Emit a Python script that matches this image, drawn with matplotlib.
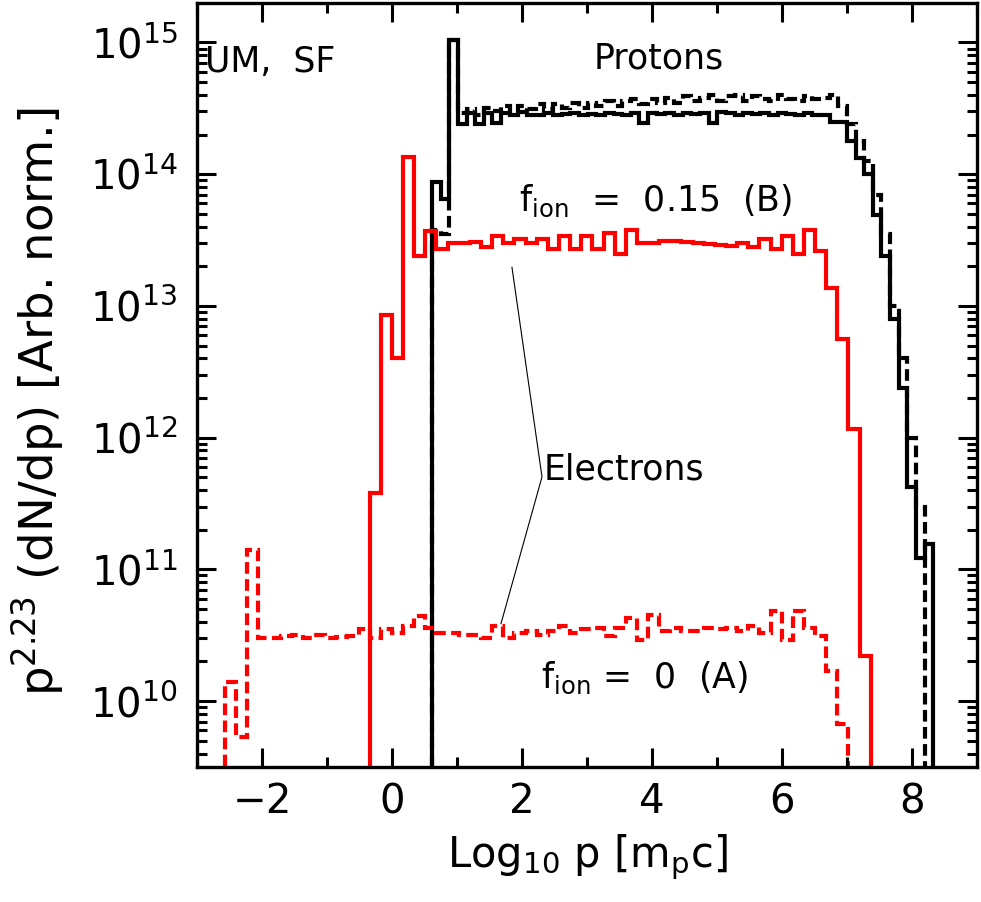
import numpy as np
import matplotlib
matplotlib.use("Agg")
import matplotlib.pyplot as plt

plt.rcParams['font.family'] = ['DejaVu Sans']
plt.rcParams['mathtext.default'] = 'regular'

# ---------------- data ----------------
# electron histograms share one log-momentum grid
E_LEFT = -2.57
E_WIDTH = 0.1713
# f_ion = 0 (A) electrons, 56 bins starting at E_LEFT
ele_A = [1.4e10, 5.3e9, 1.4e11, 3.0e10, 3.0e10, 3.1e10, 3.2e10, 3.0e10, 3.2e10, 3.0e10,
         3.05e10, 3.1e10, 3.5e10, 3.0e10, 3.5e10, 3.3e10, 3.7e10, 4.4e10, 3.6e10, 3.3e10,
         3.3e10, 3.2e10, 3.2e10, 3.0e10, 3.7e10, 3.0e10, 3.3e10, 3.4e10, 3.2e10, 3.4e10,
         3.7e10, 3.3e10, 3.5e10, 3.6e10, 3.1e10, 3.6e10, 4.3e10, 2.9e10, 4.5e10, 3.4e10,
         3.6e10, 3.4e10, 3.4e10, 3.6e10, 3.5e10, 3.6e10, 3.4e10, 3.7e10, 3.3e10, 4.8e10,
         2.9e10, 4.8e10, 3.6e10, 3.1e10, 1.7e10, 6.7e9]
# f_ion = 0.15 (B) electrons, 45 bins starting 13 bins after E_LEFT
ele_B_offset = 13
ele_B = [3.8e11, 8.5e12, 4.0e12, 1.34e14, 2.4e13, 3.7e13, 2.7e13, 3.0e13, 3.0e13, 3.05e13,
         2.8e13, 3.4e13, 3.0e13, 3.2e13, 3.0e13, 3.2e13, 2.7e13, 3.4e13, 2.7e13, 3.4e13,
         2.7e13, 3.6e13, 2.5e13, 3.8e13, 3.0e13, 3.0e13, 3.1e13, 3.1e13, 3.05e13, 3.0e13,
         2.95e13, 2.9e13, 2.85e13, 3.0e13, 2.8e13, 3.2e13, 2.7e13, 3.4e13, 2.5e13, 3.8e13,
         2.6e13, 1.38e13, 5.6e12, 1.16e12, 2.2e10]

# proton histograms
P_LEFT = 0.615
P_WIDTH = 0.133
# f_ion = 0.15 (B) protons, 58 bins
prot_B = [8.7e13, 6.5e13, 1.05e15,
          2.4e14, 2.9e14, 2.4e14, 2.9e14, 2.45e14, 2.9e14, 2.8e14, 2.95e14, 2.8e14, 2.8e14,
          2.9e14, 2.8e14, 2.85e14, 2.9e14, 2.8e14, 2.85e14, 2.8e14, 2.9e14, 2.85e14, 2.8e14,
          2.9e14, 2.45e14, 2.9e14, 2.85e14, 2.9e14, 2.8e14, 2.9e14, 2.85e14, 2.9e14, 2.45e14,
          2.95e14, 2.9e14, 2.8e14, 2.9e14, 2.85e14, 2.9e14, 2.8e14, 2.9e14, 2.85e14, 2.8e14,
          2.9e14, 2.8e14, 2.8e14,
          2.5e14, 2.5e14, 1.8e14, 1.33e14, 1.0e14, 4.9e13, 2.4e13, 7.9e12, 2.4e12, 4.2e11,
          1.23e11, 1.55e11]
# f_ion = 0 (A) protons, 57 bins
prot_A = [3.8e13, 3.5e13, 1.05e15,
          2.9e14, 3.1e14, 2.8e14, 3.2e14, 3.0e14, 3.3e14, 3.0e14, 3.3e14, 3.1e14, 3.4e14,
          3.1e14, 3.4e14, 3.2e14, 3.5e14, 3.2e14, 3.5e14, 3.3e14, 3.6e14, 3.3e14, 3.6e14,
          3.7e14, 3.4e14, 3.7e14, 3.5e14, 3.8e14, 3.5e14, 3.9e14, 3.6e14, 3.8e14, 4.0e14,
          3.6e14, 3.9e14, 4.0e14, 3.6e14, 3.9e14, 3.7e14, 3.6e14, 4.0e14, 3.7e14, 3.6e14,
          3.9e14, 3.7e14, 3.8e14,
          4.0e14, 3.3e14, 2.4e14, 1.8e14, 1.25e14, 7.0e13, 3.5e13, 1.0e13, 4.0e12, 1.0e12,
          3.0e11]

# ---------------- figure ----------------
fig = plt.figure(figsize=(9.81, 9.02), dpi=100)
ax = fig.add_axes([0.2008, 0.1497, 0.7951, 0.8470])
ax.set_yscale('log')
ax.set_xlim(-3, 9)
ax.set_ylim(10**9.5, 10**15.3)

LW = 3.0
DASH = (0, (2.8, 1.3))
base = 1e5
e_edges_A = E_LEFT + E_WIDTH * np.arange(len(ele_A) + 1)
e_edges_B = E_LEFT + E_WIDTH * (ele_B_offset + np.arange(len(ele_B) + 1))
p_edges_B = P_LEFT + P_WIDTH * np.arange(len(prot_B) + 1)
p_edges_A = P_LEFT + P_WIDTH * np.arange(len(prot_A) + 1)

ax.stairs(prot_A, p_edges_A, baseline=base, color='black', lw=LW, linestyle=DASH)
ax.stairs(prot_B, p_edges_B, baseline=base, color='black', lw=LW, joinstyle='miter')
ax.stairs(ele_A, e_edges_A, baseline=base, color='red', lw=LW, linestyle=DASH)
ax.stairs(ele_B, e_edges_B, baseline=base, color='red', lw=LW, joinstyle='miter')

# annotations
fs_txt = 25
ax.text(-2.87, 10**14.85, 'UM,  SF', fontsize=fs_txt, ha='left', va='center')
ax.text(4.1, 10**14.88, 'Protons', fontsize=fs_txt, ha='center', va='center')
ax.text(4.06, 10**13.8, r'f$_{ion}$  =  0.15  (B)', fontsize=fs_txt, ha='center', va='center')
ax.text(2.33, 10**11.76, 'Electrons', fontsize=fs_txt, ha='left', va='center')
ax.text(3.88, 10**10.18, r'f$_{ion}$ =  0  (A)', fontsize=fs_txt, ha='center', va='center')
ax.plot([1.846, 2.308, 1.677], [10**13.293, 10**11.702, 10**10.588], color='black', lw=0.8)

# axes styling
for s in ax.spines.values():
    s.set_linewidth(2.4)
ax.set_xticks([-2, 0, 2, 4, 6, 8])
ax.set_xticks(np.arange(-3, 10, 1), minor=True)
ax.tick_params(which='both', direction='in', top=True, right=True, width=2.2,
               labelsize=29)
ax.tick_params(which='major', length=13.5)
ax.tick_params(which='minor', length=7)
ax.tick_params(axis='x', which='major', pad=11)
ax.tick_params(axis='y', which='major', pad=14)
ax.yaxis.set_minor_formatter(matplotlib.ticker.NullFormatter())

ax.set_xlabel(r'Log$_{10}$ p [m$_p$c]', fontsize=30)
ax.set_ylabel(r'p$^{2.23}$ (dN/dp) [Arb. norm.]', fontsize=33.5)
ax.xaxis.set_label_coords(0.5, -0.085)
ax.yaxis.set_label_coords(-0.168, 0.478)

fig.savefig('out.png', dpi=100)
